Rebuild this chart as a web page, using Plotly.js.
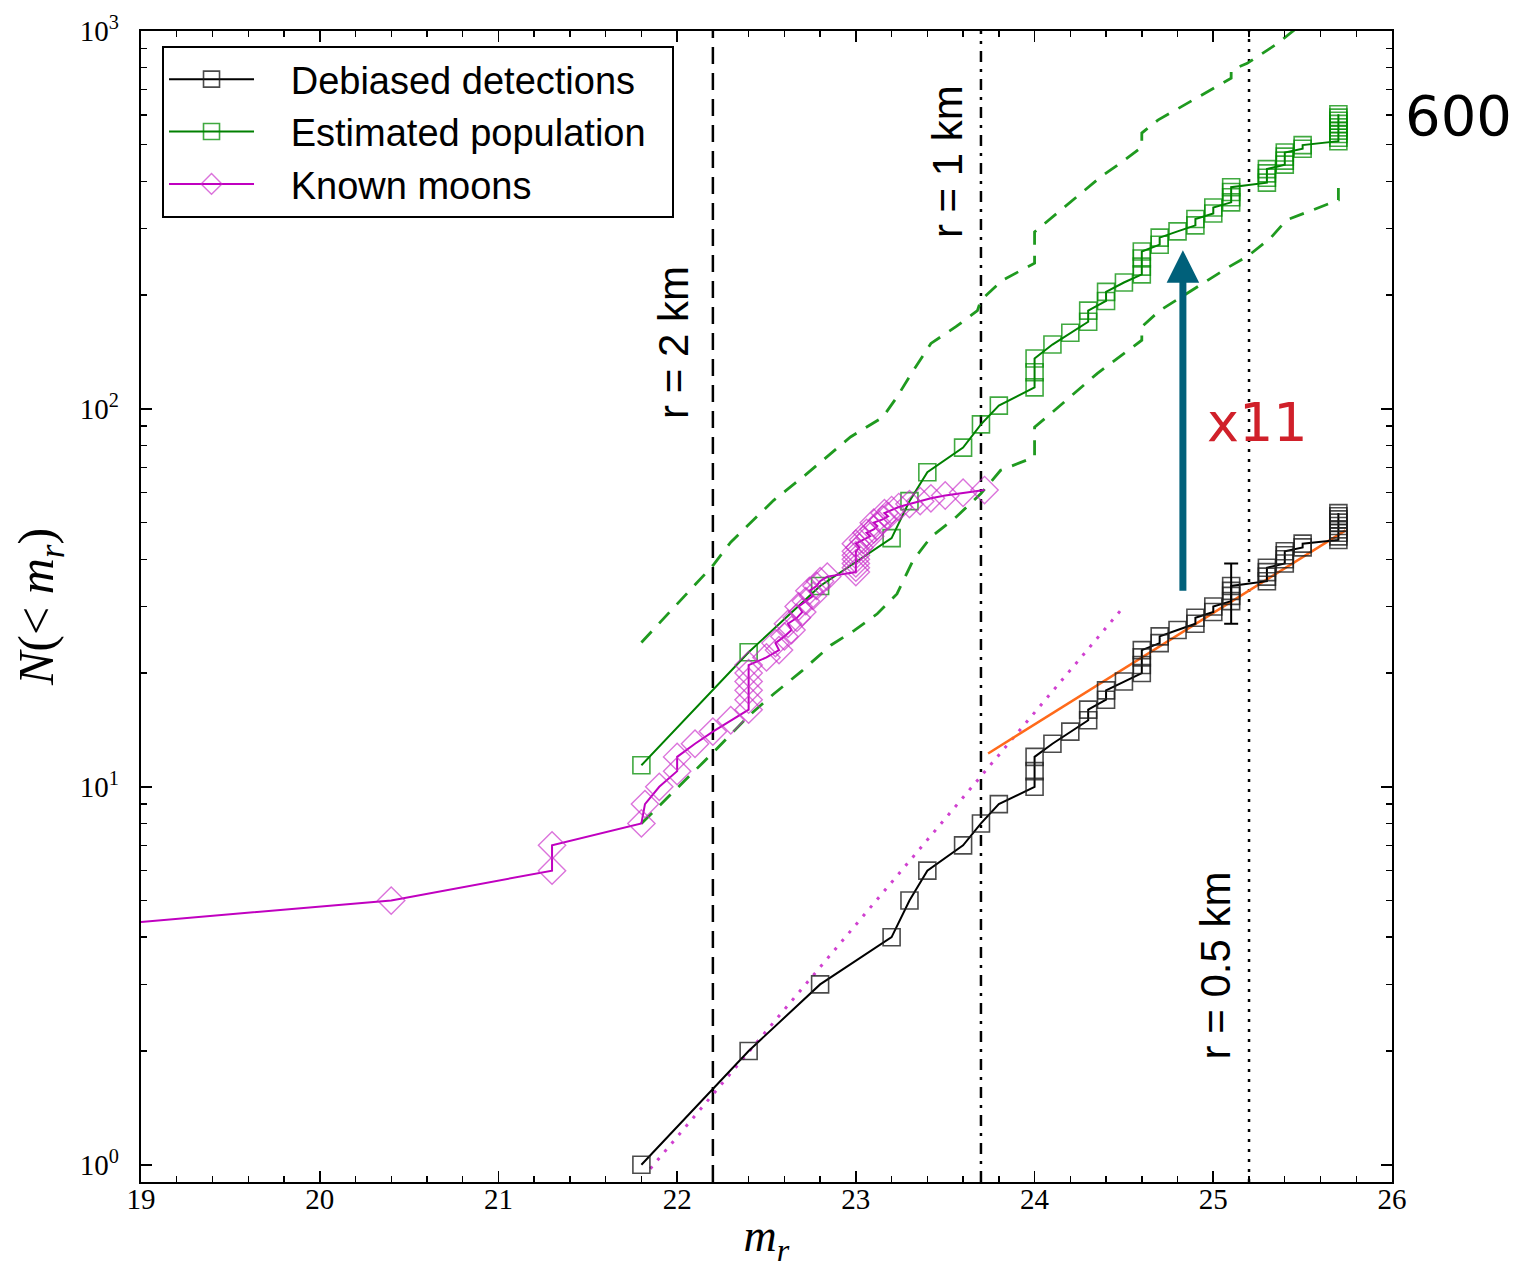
<!DOCTYPE html>
<html>
<head>
<meta charset="utf-8">
<script src="https://cdn.plot.ly/plotly-3.0.1.min.js"></script>
<style>html,body{margin:0;padding:0;background:#fff;}#chart{width:1524px;height:1268px;}</style>
</head>
<body>
<div id="chart"></div>
<script>
// ---- data ----
const detX = [21.8, 22.4, 22.8, 23.2, 23.3, 23.4, 23.6, 23.7, 23.8,
  24.0, 24.0, 24.0, 24.1, 24.2, 24.3, 24.3, 24.4, 24.4, 24.5,
  24.6, 24.6, 24.6, 24.6, 24.7, 24.7, 24.8, 24.9, 24.9, 25.0, 25.0,
  25.1, 25.1, 25.1, 25.1, 25.3, 25.3, 25.3, 25.3, 25.4, 25.4, 25.4, 25.4,
  25.5, 25.5, 25.7, 25.7, 25.7, 25.7, 25.7, 25.7, 25.7, 25.7, 25.7];
const detN = [1, 2, 3, 4, 5, 6, 7, 8, 9,
  10, 11, 12, 13, 14, 15, 16, 17, 18, 19,
  20, 21, 22, 23, 24, 25, 26, 27, 28, 29, 30,
  31, 32, 33, 34, 35, 36, 37, 38, 39, 40, 41, 42,
  43, 44, 45, 46, 47, 48, 49, 50, 51, 52, 53];

const estX = [21.8, 22.4, 22.8, 23.2, 23.3, 23.4, 23.6, 23.7, 23.8,
  24.0, 24.0, 24.0, 24.1, 24.2, 24.3, 24.3, 24.4, 24.4, 24.5,
  24.6, 24.6, 24.6, 24.6, 24.7, 24.7, 24.8, 24.9, 24.9, 25.0, 25.0,
  25.1, 25.1, 25.1, 25.1, 25.3, 25.3, 25.3, 25.3, 25.4, 25.4, 25.4, 25.4,
  25.5, 25.5, 25.7, 25.7, 25.7, 25.7, 25.7, 25.7, 25.7, 25.7, 25.7];
const estN = [11.4, 22.7, 34, 45.5, 57, 68, 79, 91, 102,
  114, 125, 136, 148, 159, 170, 182, 193, 204, 216,
  227, 238, 250, 261, 272, 284, 295, 306, 318, 329, 341,
  352, 363, 375, 386, 397, 409, 420, 431, 443, 454, 465, 477,
  488, 499, 511, 522, 534, 545, 556, 568, 579, 590, 602];

const upperX = [21.8, 22.2, 22.3, 22.54, 22.72, 22.97, 23.15, 23.23, 23.32, 23.42,
  23.56, 23.68, 23.7, 23.82, 24.0, 24.0, 24.37, 24.48, 24.6, 24.6, 24.69,
  25.0, 25.1, 25.1, 25.19, 25.36, 25.7];
const upperN = [24.1, 38.5, 44.4, 57.3, 67, 84.3, 95, 107.5, 126, 149,
  165, 182, 194, 219, 243, 294, 411, 447, 493, 537, 581,
  706, 750, 788, 821, 927, 1250];

const lowerX = [21.8, 22.2, 22.4, 22.54, 22.7, 22.86, 22.99, 23.12, 23.23, 23.32,
  23.42, 23.56, 23.7, 23.81, 24.0, 24.0, 24.1, 24.35, 24.6, 24.6, 24.7,
  25.09, 25.19, 25.32, 25.41, 25.6, 25.7, 25.7];
const lowerN = [8.0, 12.3, 15.4, 17.6, 20.3, 23.7, 25.9, 28.7, 32.4, 39.7,
  45.8, 51.7, 59.7, 68.8, 74.6, 89.5, 98, 124, 152, 165, 182,
  238, 253, 283, 316, 343, 357, 384];

const moonX = [18.0, 20.4, 21.3, 21.3, 21.8, 21.82, 21.9, 22.0, 22.0, 22.1, 22.2, 22.3,
  22.4, 22.4, 22.4, 22.4, 22.4, 22.4,
  22.50, 22.57, 22.55, 22.60, 22.64, 22.62, 22.67, 22.70, 22.68, 22.72,
  22.76, 22.74, 22.78, 22.80, 22.84, 23.00, 23.00, 23.00, 23.00, 23.00,
  23.00, 23.02, 23.00, 23.04, 23.08, 23.06, 23.10, 23.12, 23.10, 23.15,
  23.18, 23.16, 23.20, 23.24, 23.30, 23.36, 23.42, 23.50, 23.60, 23.72];
const moonN = [4, 5, 6, 7, 8, 9, 10, 11, 12, 13, 14, 15,
  16, 17, 18, 19, 20, 21,
  22, 23, 24, 25, 26, 27, 28, 29, 30, 31,
  32, 33, 34, 35, 36, 37, 38, 39, 40, 41,
  42, 43, 44, 45, 46, 47, 48, 49, 50, 51,
  52, 53, 54, 55, 56, 57, 58, 59, 60, 61];

const errX = [25.1];
const errN = [33];
const errSize = [6];

const moonFitX = [21.85, 24.5];
const moonFitN = [0.976, 30];
const detFitX = [23.74, 25.74];
const detFitN = [12.25, 47.7];

const vlineX = [22.2, 23.7, 25.2];
const vlineLabels = ['r = 2 km', 'r = 1 km', 'r = 0.5 km'];
const vlineLabelN = [150, 450, 3.37];

const arrowX = 24.83;
const arrowFromN = 32.7;
const arrowToN = 263;
const factorLabel = 'x11';
const totalLabel = '600';

const seriesNames = ['Debiased detections', 'Estimated population', 'Known moons'];

const xTicks = [19, 20, 21, 22, 23, 24, 25, 26];
const yTicks = [1, 10, 100, 1000];
const yTickText = ['10<sup>0</sup>', '10<sup>1</sup>', '10<sup>2</sup>', '10<sup>3</sup>'];
const yMinor = [];
[1, 10, 100].forEach(d => { for (let k = 2; k <= 9; k++) yMinor.push(k * d); });

const yLow = 0.9, yHigh = 1000;

// ---- traces ----
const pad = '\u00a0\u00a0\u00a0';
const tail = '\u00a0\u00a0';
const dashes = ['17px,9px', '11px,7px,3px,7px', '3px,7px'];
const traces = [];
vlineX.forEach((vx, i) => {
  traces.push({x: [vx, vx], y: [yLow, yHigh], mode: 'lines', showlegend: false, hoverinfo: 'skip',
    line: {color: '#000', width: 2.5, dash: dashes[i]}});
});
traces.push({x: upperX, y: upperN, mode: 'lines', showlegend: false,
  line: {color: '#1f9a1f', width: 2.8, dash: '15px,11px'}});
traces.push({x: lowerX, y: lowerN, mode: 'lines', showlegend: false,
  line: {color: '#1f9a1f', width: 2.8, dash: '15px,11px'}});
traces.push({x: moonFitX, y: moonFitN, mode: 'lines', showlegend: false,
  line: {color: '#d040d0', width: 3, dash: '3px,8px'}});
traces.push({x: detFitX, y: detFitN, mode: 'lines', showlegend: false,
  line: {color: '#ff6a1a', width: 2.5}});
traces.push({x: detX, y: detN, mode: 'lines+markers', name: pad + seriesNames[0],
  line: {color: '#000', width: 2},
  marker: {symbol: 'square-open', size: 17, color: 'rgba(30,30,30,0.8)', line: {width: 1.6}}});
traces.push({x: errX, y: errN, mode: 'lines', showlegend: false,
  line: {color: 'rgba(0,0,0,0)'},
  error_y: {type: 'data', array: errSize, visible: true, color: '#000', thickness: 2, width: 7}});
traces.push({x: estX, y: estN, mode: 'lines+markers', name: pad + seriesNames[1] + tail,
  line: {color: '#008000', width: 2},
  marker: {symbol: 'square-open', size: 17, color: 'rgba(0,140,0,0.75)', line: {width: 1.6}}});
traces.push({x: moonX, y: moonN, mode: 'lines+markers', name: pad + seriesNames[2],
  line: {color: '#c000c0', width: 2},
  marker: {symbol: 'diamond-open', size: 21, color: 'rgba(200,40,200,0.65)', line: {width: 1.4}}});

// ---- annotations ----
const annotations = [];
const labelOffsets = [-0.22, -0.19, -0.19];
vlineX.forEach((vx, i) => {
  annotations.push({x: vx + labelOffsets[i], y: Math.log10(vlineLabelN[i]), xref: 'x', yref: 'y',
    text: vlineLabels[i], showarrow: false, textangle: -90, xanchor: 'center', yanchor: 'middle',
    font: {family: 'Liberation Sans, Arial, sans-serif', size: 42, color: '#000'}});
});
annotations.push({x: arrowX, y: Math.log10(arrowToN), ax: arrowX, ay: Math.log10(arrowFromN),
  xref: 'x', yref: 'y', axref: 'x', ayref: 'y', text: '', showarrow: true,
  arrowhead: 2, arrowsize: 0.93, arrowwidth: 7, arrowcolor: '#00607a'});
annotations.push({x: 25.25, y: Math.log10(92), xref: 'x', yref: 'y', text: factorLabel, showarrow: false,
  xanchor: 'center', yanchor: 'middle',
  font: {family: 'DejaVu Sans, sans-serif', size: 54, color: '#d0202a'}});
annotations.push({x: 1.0528, y: 0.927, xref: 'paper', yref: 'paper', text: totalLabel, showarrow: false,
  xanchor: 'center', yanchor: 'middle',
  font: {family: 'DejaVu Sans, sans-serif', size: 56, color: '#000'}});

const serif = 'Liberation Serif, Times New Roman, serif';
const layout = {
  width: 1524, height: 1268,
  margin: {l: 141, r: 132, t: 31, b: 86},
  paper_bgcolor: '#fff', plot_bgcolor: '#fff',
  showlegend: true,
  legend: {x: 0.0168, y: 0.987, xanchor: 'left', yanchor: 'top',
    bgcolor: '#fff', bordercolor: '#000', borderwidth: 2,
    font: {family: 'Liberation Sans, Arial, sans-serif', size: 38, color: '#000'},
    itemwidth: 85, tracegroupgap: 0},
  xaxis: {range: [19, 26], tickmode: 'array', tickvals: xTicks, ticktext: xTicks.map(String),
    ticks: 'inside', ticklen: 11, tickwidth: 1.6, tickcolor: '#000',
    showline: true, linewidth: 2.2, linecolor: '#000', mirror: 'allticks',
    showgrid: false, zeroline: false, ticklabelstandoff: -10,
    minor: {ticks: 'inside', ticklen: 6, tickwidth: 1.4, tickcolor: '#000', dtick: 0.2, tick0: 19, showgrid: false},
    tickfont: {family: serif, size: 29, color: '#000'},
    title: {text: '<i>m</i><sub><i>r</i></sub>', font: {family: serif, size: 46, color: '#000'}, standoff: 12}},
  yaxis: {type: 'log', range: [Math.log10(yLow), Math.log10(yHigh)],
    tickmode: 'array', tickvals: yTicks, ticktext: yTickText,
    ticks: 'inside', ticklen: 11, tickwidth: 1.6, tickcolor: '#000',
    showline: true, linewidth: 2.2, linecolor: '#000', mirror: 'allticks',
    showgrid: false, zeroline: false, ticklabelstandoff: 14,
    minor: {ticks: 'inside', ticklen: 6, tickwidth: 1.4, tickcolor: '#000', tickmode: 'array', tickvals: yMinor, showgrid: false},
    tickfont: {family: serif, size: 29, color: '#000'},
    title: {text: '<i>N</i>(&lt; <i>m</i><sub><i>r</i></sub>)', font: {family: serif, size: 50, color: '#000'}, standoff: 10}},
  annotations: annotations
};

Plotly.newPlot('chart', traces, layout, {displayModeBar: false, staticPlot: true});
</script>
</body>
</html>
